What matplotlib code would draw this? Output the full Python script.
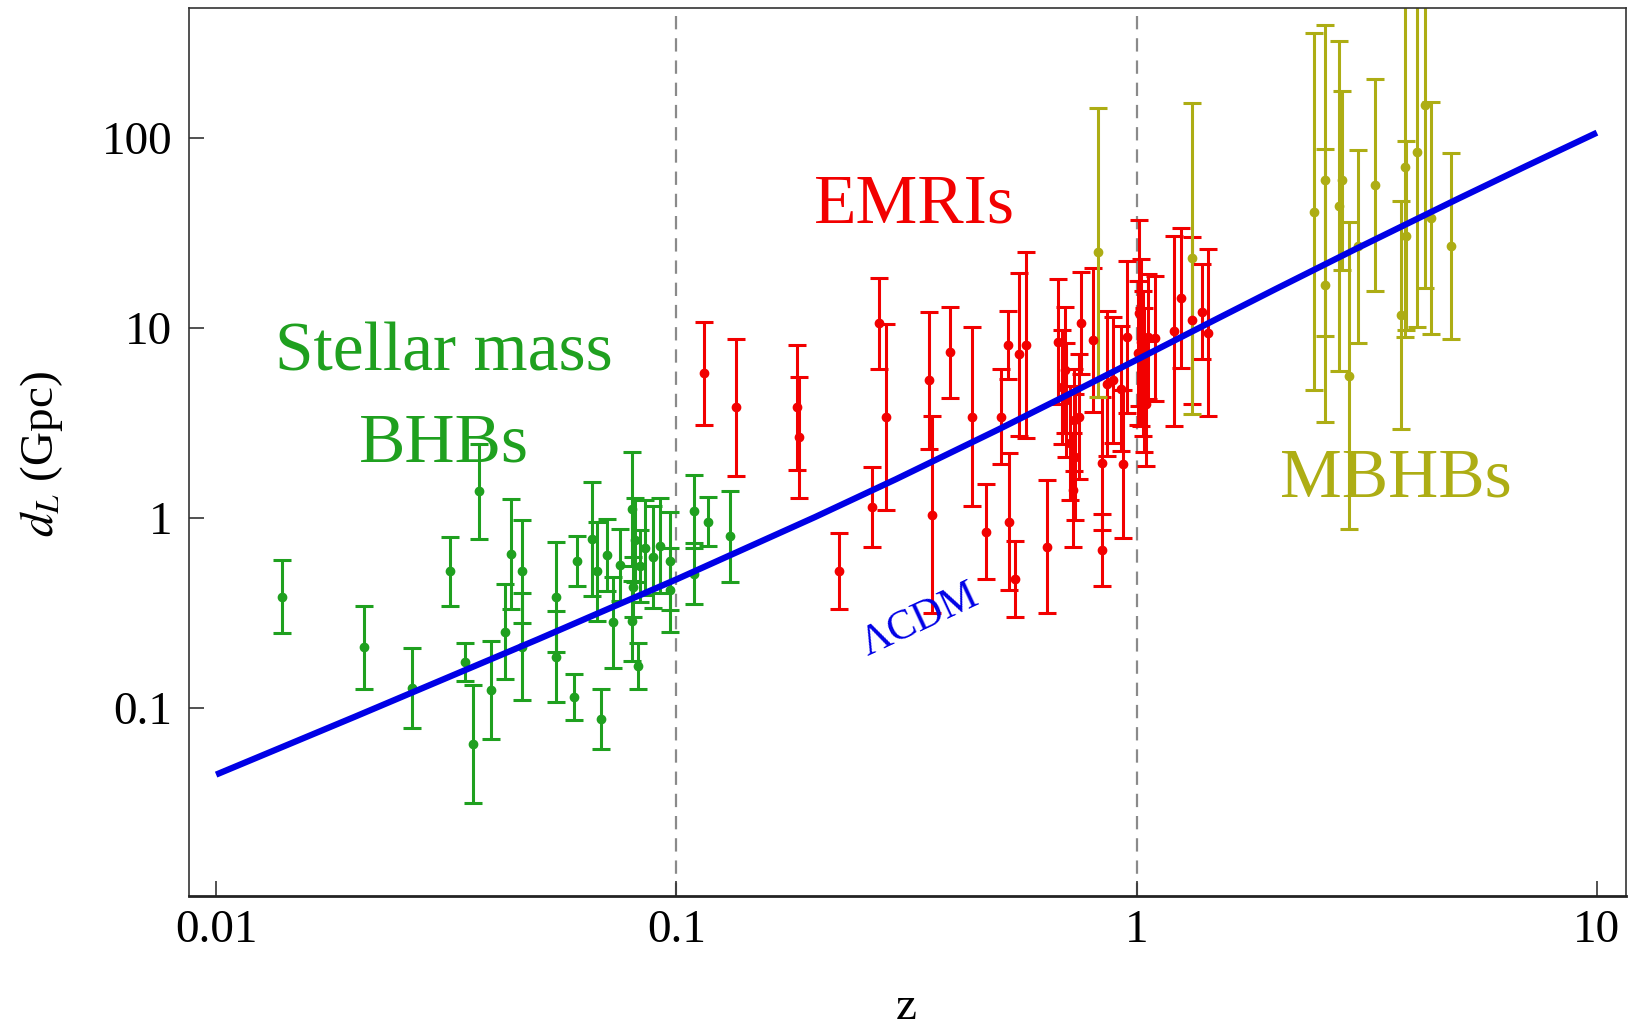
import numpy as np
import matplotlib
matplotlib.use("Agg")
import matplotlib.pyplot as plt

plt.rcParams['font.family'] = ['Liberation Serif', 'DejaVu Serif']
plt.rcParams['mathtext.fontset'] = 'stix'

# Stellar mass BHBs: redshift, d_L (Gpc), error half-width (dex)
bhb_z = [0.0139, 0.0210, 0.0267, 0.0322, 0.0372, 0.0348, 0.0362, 0.0395, 0.0425, 0.0438,
         0.0461, 0.0461, 0.0547, 0.0547, 0.0607, 0.0598, 0.0687, 0.0656, 0.0672, 0.0706,
         0.0727, 0.0755, 0.0800, 0.0800, 0.0826, 0.0812, 0.0834, 0.0855, 0.0805, 0.0888,
         0.0920, 0.0969, 0.0969, 0.109, 0.109, 0.117, 0.131]
bhb_dl = [0.385, 0.208, 0.127, 0.522, 1.38, 0.174, 0.0644, 0.124, 0.251, 0.647,
          0.522, 0.21, 0.381, 0.186, 0.592, 0.1135, 0.0871, 0.771, 0.522, 0.638,
          0.281, 0.562, 1.11, 0.285, 0.166, 0.762, 0.556, 0.697, 0.432, 0.622,
          0.715, 0.592, 0.416, 1.08, 0.509, 0.955, 0.801]
bhb_err = [0.19, 0.22, 0.21, 0.18, 0.25, 0.10, 0.31, 0.26, 0.25, 0.29,
           0.27, 0.28, 0.29, 0.24, 0.13, 0.12, 0.16, 0.30, 0.26, 0.19,
           0.24, 0.19, 0.30, 0.21, 0.12, 0.22, 0.19, 0.25, 0.16, 0.27,
           0.25, 0.26, 0.22, 0.19, 0.16, 0.13, 0.24]

# EMRIs
emri_z = [0.1148, 0.135, 0.183, 0.1846, 0.226, 0.2655, 0.275, 0.286, 0.353, 0.359,
          0.394, 0.438, 0.471, 0.5085, 0.525, 0.527, 0.544, 0.556, 0.576, 0.640,
          0.676, 0.690, 0.698, 0.704, 0.717, 0.731, 0.736, 0.750, 0.757, 0.726,
          0.805, 0.839, 0.839, 0.860, 0.889, 0.925, 0.935, 0.951, 1.005, 1.01,
          1.02, 1.03, 1.04, 1.05, 1.06, 1.096, 1.206, 1.246, 1.32, 1.387, 1.43]
emri_dl = [5.77, 3.82, 3.82, 2.65, 0.522, 1.14, 10.6, 3.41, 5.3, 1.04,
           7.45, 3.41, 0.843, 3.41, 8.14, 0.955, 0.478, 7.27, 8.14, 0.706,
           8.47, 4.9, 6.0, 4.18, 2.48, 3.28, 2.09, 3.41, 10.6, 1.40,
           8.65, 1.94, 0.676, 5.1, 5.33, 4.8, 1.92, 9.0, 7.36, 12.0,
           8.4, 6.5, 5.3, 4.0, 9.0, 8.83, 9.69, 14.35, 11.0, 12.2, 9.46]
emri_err = [0.27, 0.36, 0.33, 0.32, 0.20, 0.21, 0.24, 0.49, 0.36, 0.52,
            0.24, 0.47, 0.25, 0.25, 0.18, 0.36, 0.20, 0.43, 0.49, 0.35,
            0.33, 0.30, 0.33, 0.30, 0.30, 0.27, 0.33, 0.33, 0.27, 0.30,
            0.38, 0.35, 0.19, 0.38, 0.33, 0.33, 0.39, 0.40, 0.38, 0.49,
            0.44, 0.38, 0.38, 0.33, 0.33, 0.33, 0.50, 0.37, 0.44, 0.25, 0.44]

# MBHBs
mbhb_z = [0.825, 1.317, 2.43, 2.57, 2.57, 2.75, 2.80, 2.90, 3.02, 3.30,
          3.76, 3.83, 3.84, 4.07, 4.24, 4.37, 4.82]
mbhb_dl = [25.0, 23.3, 40.9, 60.0, 16.8, 43.8, 60.0, 5.61, 26.9, 56.7,
           11.75, 70.8, 30.7, 84.4, 149.0, 37.9, 27.1]
mbhb_err = [0.76, 0.82, 0.94, 0.82, 0.72, 0.87, 0.47, 0.81, 0.51, 0.56,
            0.60, 0.90, 0.50, 0.92, 0.96, 0.61, 0.49]

# LambdaCDM curve
lcdm_z = [0.01, 0.02, 0.05, 0.1, 0.2, 0.3, 0.5, 0.7, 1.0, 1.5, 2.0, 3.0, 5.0, 7.0, 10.0]
lcdm_dl = [0.0444, 0.0895, 0.229, 0.474, 1.009, 1.598, 2.916, 4.385, 6.80, 11.23,
           16.0, 26.17, 48.03, 71.06, 106.9]

x_ticks = [0.01, 0.1, 1, 10]
x_ticklabels = ['0.01', '0.1', '1', '10']
y_ticks = [0.1, 1, 10, 100]
y_ticklabels = ['0.1', '1', '10', '100']

GREEN = '#1fa01f'
RED = '#f20000'
OLIVE = '#adad14'
BLUE = '#0000e6'


def dex_yerr(vals, dex):
    vals = np.array(vals)
    dex = np.array(dex)
    return [vals - vals / 10 ** dex, vals * 10 ** dex - vals]


fig = plt.figure(figsize=(16.29, 10.31), dpi=100)
ax = fig.add_axes([0.116, 0.1313, 0.8822, 0.8606])

ax.set_xscale('log')
ax.set_yscale('log')
ax.set_xlim(0.00873, 11.57)
ax.set_ylim(0.01023, 483)

# vertical dashed separators
for xv in [0.1, 1]:
    ax.axvline(xv, color='#8a8a8a', lw=1.6, ls=(0, (6, 4)), zorder=1)

for zs, ds, es, col in [(bhb_z, bhb_dl, bhb_err, GREEN),
                        (emri_z, emri_dl, emri_err, RED),
                        (mbhb_z, mbhb_dl, mbhb_err, OLIVE)]:
    ax.errorbar(zs, ds, yerr=dex_yerr(ds, es), fmt='o', color=col, ms=6,
                elinewidth=2.2, capsize=6.5, capthick=2.2, zorder=2)

ax.plot(lcdm_z, lcdm_dl, color=BLUE, lw=4.5, zorder=5, solid_capstyle='butt')

# labels in the plot
ax.text(0.0312, 7.36, 'Stellar mass', color=GREEN, fontsize=50, ha='center', va='center')
ax.text(0.0312, 2.43, 'BHBs', color=GREEN, fontsize=50, ha='center', va='center')
ax.text(0.329, 44.1, 'EMRIs', color=RED, fontsize=50, ha='center', va='center')
ax.text(3.66, 1.58, 'MBHBs', color=OLIVE, fontsize=50, ha='center', va='center')
ax.text(0.339, 0.288, '\u039bCDM', color=BLUE, fontsize=30, ha='center', va='center',
        rotation=25)

ax.set_xticks(x_ticks)
ax.set_xticklabels(x_ticklabels)
ax.set_yticks(y_ticks)
ax.set_yticklabels(y_ticklabels)
ax.minorticks_off()
ax.tick_params(axis='both', direction='in', length=11, width=1.2, labelsize=34,
               color='#333333')
ax.tick_params(axis='x', pad=10)
ax.tick_params(axis='y', pad=12)

for side in ['left', 'top', 'right']:
    ax.spines[side].set_linewidth(1.2)
    ax.spines[side].set_color('#333333')
ax.spines['bottom'].set_linewidth(2)
ax.spines['bottom'].set_color('#222222')

fig.text(906 / 1629, 1 - 1008 / 1031, 'z', fontsize=34, ha='center', va='center')
fig.text(41.6 / 1629, 1 - 454 / 1031, r'$d_L$ (Gpc)', fontsize=34, ha='center',
         va='center', rotation=90)

fig.savefig('out.png', dpi=100)
